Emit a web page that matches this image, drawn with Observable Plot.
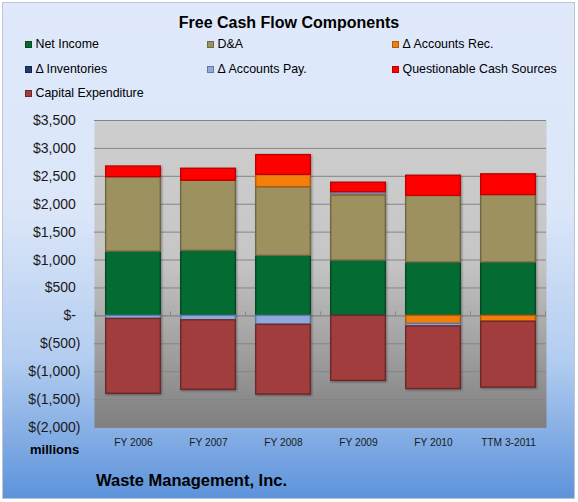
<!DOCTYPE html>
<html>
<head>
<meta charset="utf-8">
<script src="https://cdn.jsdelivr.net/npm/d3@7"></script>
<script src="https://cdn.jsdelivr.net/npm/@observablehq/plot@0.6"></script>
<style>
  html, body { margin: 0; padding: 0; background: #fff; }
  body { width: 578px; height: 502px; overflow: hidden; font-family: "Liberation Sans", Arial, sans-serif; }
  #fig { position: absolute; left: 2px; top: 2px; width: 571px; height: 495px;
    border: 1px solid #bcc6d6;
    background: linear-gradient(180deg, #dfe9fb 0%, #dbe6f9 42%, #b3cdf0 72%, #5d93db 100%); }
  .abs { position: absolute; white-space: nowrap; color: #000; }
  #title { font-weight: bold; font-size: 16px; left: 0; width: 578px; text-align: center; top: 14px; padding-left: 0; }
  .leg { position: absolute; font-size: 12.4px; white-space: nowrap; line-height: 14px; }
  .sw { position: absolute; width: 7px; height: 7px; box-sizing: border-box; }
  #chart { position: absolute; left: 0; top: 105px; }
  #millions { font-weight: bold; font-size: 13px; left: 30px; top: 442px; }
  #company { font-weight: bold; font-size: 16.5px; left: 96px; top: 471px; }
</style>
</head>
<body>
<div id="fig"></div>
<div id="title" class="abs"></div>
<div id="legend"></div>
<div id="chart"></div>
<div id="millions" class="abs">millions</div>
<div id="company" class="abs">Waste Management, Inc.</div>
<script>
const categories = ["FY 2006", "FY 2007", "FY 2008", "FY 2009", "FY 2010", "TTM 3-2011"];
const seriesNames = ["Net Income", "D&A", "\u0394 Accounts Rec.", "\u0394 Inventories", "\u0394 Accounts Pay.", "Questionable Cash Sources", "Capital Expenditure"];
const netIncome    = [1150, 1165, 1075, 990, 955, 955];
const dAndA        = [1335, 1255, 1230, 1165, 1195, 1210];
const accountsRec  = [0, 0, 220, 20, -145, -105];
const inventories  = [0, 0, 0, 0, 0, 0];
const accountsPay  = [-55, -80, -160, 40, -45, 0];
const questionable = [190, 215, 355, 170, 360, 370];
const capex        = [-1340, -1245, -1250, -1165, -1120, -1180];
const yTicks = [-2000, -1500, -1000, -500, 0, 500, 1000, 1500, 2000, 2500, 3000, 3500];

const fills   = ["#046b33", "#9c915f", "#f27f0c", "#1f3b68", "#8eaadc", "#ff0000", "#a13d3d"];
const strokes = ["#034a23", "#6f6842", "#b15c08", "#142747", "#5f78a6", "#c00000", "#6e2828"];

document.getElementById("title").textContent = "Free Cash Flow Components";

// legend
const legendCols = [25, 207, 392];
const legendRows = [41, 66, 90];
const legend = document.getElementById("legend");
seriesNames.forEach((name, i) => {
  const col = i % 3, row = Math.floor(i / 3);
  const sw = document.createElement("div");
  sw.className = "sw";
  sw.style.left = legendCols[col] + "px";
  sw.style.top = (legendRows[row]) + "px";
  sw.style.background = fills[i];
  sw.style.border = "1px solid " + strokes[i];
  legend.appendChild(sw);
  const t = document.createElement("div");
  t.className = "leg";
  t.style.left = (legendCols[col] + 10.5) + "px";
  t.style.top = (legendRows[row] - 4) + "px";
  t.textContent = name;
  legend.appendChild(t);
});

const seriesValues = [netIncome, dAndA, accountsRec, inventories, accountsPay, questionable, capex];
const data = [];
seriesValues.forEach((vals, s) => {
  vals.forEach((v, c) => data.push({cat: categories[c], series: seriesNames[s], value: v, fill: fills[s], stroke: strokes[s]}));
});

const fmt = d => {
  if (d === 0) return "$-\u2004";
  const s = d3.format(",")(Math.abs(d));
  return d < 0 ? "$(" + s + ")" : "$" + s + "\u2004";
};

const chart = Plot.plot({
  width: 578,
  height: 360,
  marginLeft: 94,
  marginRight: 32,
  marginTop: 15,
  marginBottom: 38,
  style: {background: "transparent", fontFamily: "'Liberation Sans', Arial, sans-serif", overflow: "visible"},
  x: {domain: categories, paddingInner: 0.26, paddingOuter: 0.13, label: null},
  y: {domain: [-2000, 3500], label: null},
  color: {type: "identity"},
  marks: [
    Plot.frame({fill: "url(#plotGrad)", stroke: null}),
    Plot.gridY(yTicks, {stroke: "#858585", strokeOpacity: 1, strokeWidth: 1}),
    Plot.ruleY([0], {stroke: "#8a8a8a", strokeWidth: 1}),
    Plot.barY(data, {x: "cat", y: "value", fill: "fill", stroke: "stroke", strokeWidth: 1.4, insetLeft: 0.7, insetRight: 0.7}),
    Plot.axisY(yTicks, {tickSize: 0, tickPadding: 14, tickFormat: fmt, fontSize: 14, fill: "#1a1a1a"}),
    Plot.axisX({tickSize: 0, tickPadding: 11, fontSize: 10.2, fill: "#1a1a1a"})
  ]
});

const NS = "http://www.w3.org/2000/svg";
const defs = document.createElementNS(NS, "defs");
const lg = document.createElementNS(NS, "linearGradient");
lg.setAttribute("id", "plotGrad");
lg.setAttribute("x1", "0"); lg.setAttribute("y1", "0"); lg.setAttribute("x2", "0"); lg.setAttribute("y2", "1");
[["0%", "#cecece"], ["45%", "#c6c6c6"], ["100%", "#7f7f7f"]].forEach(([o, c]) => {
  const st = document.createElementNS(NS, "stop");
  st.setAttribute("offset", o); st.setAttribute("stop-color", c);
  lg.appendChild(st);
});
defs.appendChild(lg);
chart.insertBefore(defs, chart.firstChild);

// drop shadow on bars
chart.querySelectorAll("g[aria-label='bar']").forEach(g => g.setAttribute("style", "filter: drop-shadow(1.5px 1.5px 1px rgba(0,0,0,0.35))"));

// category boundary ticks on the zero line
const xs = chart.scale("x"), ysc = chart.scale("y");
const y0 = ysc.apply(0);
const step = xs.step;
const gT = document.createElementNS(NS, "g");
for (let i = 0; i <= categories.length; i++) {
  const xx = (i < categories.length ? xs.apply(categories[i]) - (step - xs.bandwidth) / 2 : xs.apply(categories[categories.length - 1]) + xs.bandwidth + (step - xs.bandwidth) / 2);
  const l = document.createElementNS(NS, "line");
  l.setAttribute("x1", xx); l.setAttribute("x2", xx);
  l.setAttribute("y1", y0 - 4); l.setAttribute("y2", y0);
  l.setAttribute("stroke", "#8a8a8a");
  gT.appendChild(l);
}
chart.appendChild(gT);

document.getElementById("chart").appendChild(chart);
</script>
</body>
</html>
